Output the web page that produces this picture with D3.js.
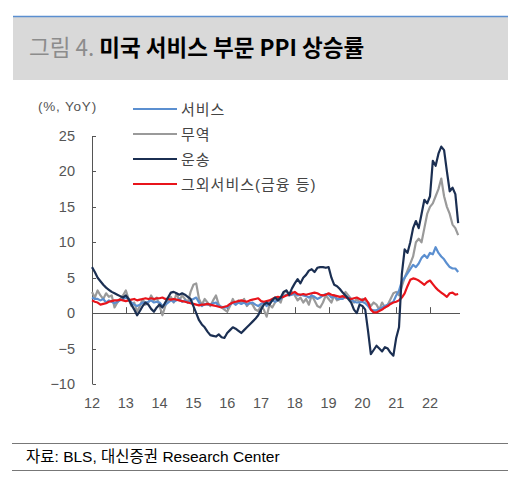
<!DOCTYPE html>
<html><head><meta charset="utf-8">
<script src="https://cdn.jsdelivr.net/npm/d3@7"></script>
<style>body{margin:0;background:#fff}svg{display:block;font-family:"Liberation Sans",Arial,"Noto Sans CJK KR",sans-serif}</style>
</head><body><svg id="c" width="523" height="485"></svg>
<script>
const yearLabels=["12","13","14","15","16","17","18","19","20","21","22"];
const yTicks=[-10,-5,0,5,10,15,20,25];
const seriesNames=["서비스","무역","운송","그외서비스(금융 등)"];
const colors=["#5b8fd0","#9a9a9a","#1b2f52","#e8141b"];
const services=[2.2,2.0,2.0,1.8,2.0,1.5,1.8,1.6,1.4,1.6,1.8,2.0, 2.2,2.0,1.5,1.2,1.0,1.2,1.5,1.5,1.6,1.8,1.5,1.6, 1.5,1.0,1.2,1.5,1.8,1.6,1.8,2.0,1.6,1.8,1.5,1.8, 2.0,2.2,1.5,1.0,1.3,1.2,1.2,1.4,1.5,1.0,0.9,0.8, 0.8,1.2,1.5,1.2,1.5,1.3,1.5,1.2,1.4,1.5,1.2,1.0, 1.3,1.5,1.0,1.5,1.8,1.6,1.8,2.0,2.4,2.6,2.5,2.6, 2.8,2.5,2.6,2.5,2.4,2.2,2.5,2.3,2.0,2.2,2.5,2.7, 2.6,2.2,2.4,2.0,2.0,2.0,2.4,2.2,2.0,1.6,1.5,1.5, 1.6,1.4,1.0,0.5,0.4,0.4,0.6,0.8,1.0,1.2,1.4,1.6, 2.5,3.2,4.5,5.0,5.6,6.2,6.8,6.5,7.0,7.8,8.2,7.8, 8.5,8.3,9.3,8.5,8.0,7.6,7.0,6.5,6.3,6.3,5.8];
const trade=[3,2.2,3.2,2.5,2.0,2.8,2.3,2.5,0.8,1.5,2.0,2.5, 3.2,2.0,1.0,1.5,0.2,1.0,2.0,1.2,1.5,2.5,1.8,2.2, 1.0,-0.3,1.0,1.8,2.3,1.5,2.8,1.8,2.5,2.0,1.5,3.0, 4.0,4.2,2.0,1.2,2.0,1.5,1.0,1.8,2.5,1.2,0.8,0.5, 0.2,1.0,2.0,1.2,1.8,1.5,2.0,1.0,1.5,1.2,0.5,0.3, 1.0,0.5,-0.5,1.2,0.8,1.5,2.0,1.5,2.8,3.2,2.5,3.0, 2.5,1.8,2.2,1.5,2.0,1.2,2.5,1.8,1.0,0.8,1.5,2.5, 2.0,1.5,2.5,1.8,2.0,2.2,3.0,2.5,2.0,1.5,2.0,1.5, 2.0,1.8,1.5,1.0,1.5,1.2,0.5,1.5,0.8,1.2,2.0,2.8, 3.0,2.5,3.8,5.0,6.0,7.0,8.0,10.0,10.5,10.0,12.0,14.0, 15.0,15.5,16.5,17.5,19.0,16.5,15.0,14.0,12.5,12.0,11.0];
const transport=[6.5,5.8,5.0,4.5,4.0,3.6,3.3,3.0,2.8,2.6,2.4,2.2, 2.5,2.0,1.2,0.5,-0.3,0.3,1.0,1.5,1.2,0.6,0.2,0.8, 1.2,0.8,1.5,2.2,2.9,3.0,2.8,2.6,2.8,2.6,2.3,2.0, 1.0,0,-1,-1.6,-2.0,-2.6,-3.1,-3.2,-3.3,-3.0,-3.4,-3.5, -2.8,-2.4,-2.0,-2.2,-2.5,-2.8,-2.4,-2.0,-1.6,-1.2,-0.8,-0.3, 0.5,1.2,1.5,1.2,1.8,2.2,1.8,2.2,3.0,3.2,2.6,3.5, 4.2,4.8,4.2,5.0,5.4,6.0,6.2,5.8,6.4,6.5,6.5,6.4, 6.5,5.0,4.0,3.8,3.4,2.9,2.5,2.0,1.5,0.5,0,1.2, 1.0,0.5,-2.5,-5.8,-5.2,-4.6,-5.0,-5.4,-4.8,-5.0,-5.6,-6.0, -3.5,-2,5.5,9,8.5,10,12,13,12,14,16,15.5, 16.5,21.5,20.8,22.5,23.5,23,20,17.2,17.7,16.8,12.7];
const others=[1.8,1.6,1.5,1.2,1.3,1.4,1.6,1.7,1.8,1.8,1.9,1.8, 1.7,1.8,1.9,2.0,1.8,1.9,2.0,2.1,2.0,2.1,2.0,2.1, 2.1,2.2,2.0,2.0,1.9,2.0,1.9,1.8,1.7,1.6,1.5,1.4, 1.3,1.2,1.1,1.2,1.2,1.3,1.2,1.1,1.0,0.9,0.8,0.9, 1.0,1.3,1.5,1.6,1.7,1.8,1.7,1.6,1.8,1.9,2.0,2.1, 1.7,1.6,1.7,1.8,2.0,2.2,2.3,2.2,2.3,2.5,2.6,2.8, 3.0,2.7,2.6,2.7,2.6,2.7,2.8,2.9,2.8,2.6,2.5,2.6, 2.8,2.6,2.5,2.4,2.3,2.4,2.2,2.1,2.0,2.1,2.2,2.0, 1.8,2.1,1.5,0.5,0.1,0.1,0.3,0.5,0.8,1.0,1.3,1.5, 1.6,1.8,2.2,2.8,3.8,4.7,4.9,4.8,4.6,4.3,4.0,4.4, 4.6,4.1,3.6,3.2,2.9,2.6,2.3,2.8,2.9,2.6,2.7];

const svg=d3.select("#c");
svg.append("rect").attr("x",13).attr("y",16).attr("width",495).attr("height",64).attr("fill","#d9d9d9");
svg.append("line").attr("x1",13).attr("x2",508).attr("y1",16.5).attr("y2",16.5).attr("stroke","#5b8fd0").attr("stroke-width",1.5);
const t=svg.append("text").attr("x",29).attr("y",56).attr("font-size",22.5).attr("font-family","'Noto Sans CJK KR',sans-serif");
t.append("tspan").attr("fill","#8c8c8c").text("그림 4. ");
t.append("tspan").attr("fill","#000").attr("font-weight","bold").text("미국 서비스 부문 PPI 상승률");

const x=d3.scaleLinear().domain([0,10]).range([92,430]);
const y=d3.scaleLinear().domain([-10,25]).range([384,136]);
const g=svg.append("g");
g.append("line").attr("x1",92.5).attr("x2",92.5).attr("y1",y(25)).attr("y2",y(-10)).attr("stroke","#555");
yTicks.forEach(v=>{
  g.append("line").attr("x1",92.5).attr("x2",96).attr("y1",Math.round(y(v))+.5).attr("y2",Math.round(y(v))+.5).attr("stroke","#555");
  g.append("text").attr("x",75).attr("y",y(v)+5).attr("text-anchor","end").attr("font-size",14.5).attr("fill","#555").text(v<0?"−"+Math.abs(v):v);
});
g.append("line").attr("x1",92).attr("x2",460).attr("y1",Math.round(y(0))+.5).attr("y2",Math.round(y(0))+.5).attr("stroke","#555");
yearLabels.forEach((l,i)=>{
  if(i>0) g.append("line").attr("x1",Math.round(x(i))+.5).attr("x2",Math.round(x(i))+.5).attr("y1",y(0)-6).attr("y2",y(0)).attr("stroke","#555");
  g.append("text").attr("x",x(i)).attr("y",408).attr("text-anchor","middle").attr("font-size",14.5).attr("fill","#555").text(l);
});
svg.append("text").attr("x",38).attr("y",111).attr("font-size",13.5).attr("fill","#555").attr("letter-spacing",0.8).text("(%, YoY)");

const line=d3.line().x((d,i)=>x(i/12)).y(d=>y(d));
[trade,services,others,transport].forEach((s,k)=>{
  const idx=[1,0,3,2][k];
  g.append("path").datum(s).attr("d",line).attr("fill","none").attr("stroke",colors[idx]).attr("stroke-width",2.2).attr("stroke-linejoin","round");
});
seriesNames.forEach((n,i)=>{
  const yy=109+i*25;
  svg.append("line").attr("x1",133).attr("x2",177).attr("y1",yy).attr("y2",yy).attr("stroke",colors[i]).attr("stroke-width",2.2);
  svg.append("text").attr("x",181).attr("y",yy+6).attr("font-size",15).attr("fill","#444").attr("letter-spacing",1).text(n);
});
svg.append("line").attr("x1",12).attr("x2",508).attr("y1",443.5).attr("y2",443.5).attr("stroke","#777").attr("stroke-width",1.2);
svg.append("line").attr("x1",12).attr("x2",508).attr("y1",470.5).attr("y2",470.5).attr("stroke","#777").attr("stroke-width",1.2);
svg.append("text").attr("x",26).attr("y",462).attr("font-size",15.5).attr("fill","#000").text("자료: BLS, 대신증권 Research Center");
</script></body></html>
